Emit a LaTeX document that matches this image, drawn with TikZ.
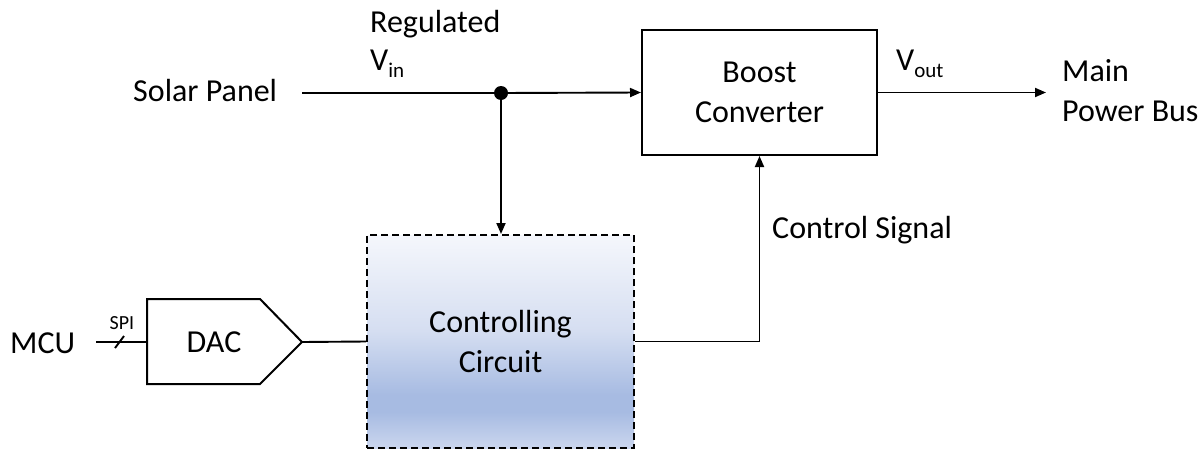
\documentclass[tikz,border=0pt]{standalone}
\usepackage{fontspec}
\setmainfont{Carlito}
\usetikzlibrary{arrows.meta}

% fill of the controller block: pale at the top, deepest blue low down
\definecolor{shA}{HTML}{CBD6EE}
\definecolor{shB}{HTML}{A7BBE2}
\definecolor{shC}{HTML}{D5DEF1}
\definecolor{shD}{HTML}{F5F7FC}
\pgfdeclareverticalshading{ctrlfill}{100bp}{%
  color(0bp)=(shA); color(25bp)=(shA); color(33.5bp)=(shB);
  color(37.5bp)=(shB); color(52.5bp)=(shC); color(75bp)=(shD);
  color(100bp)=(shD)}

\newcommand\lowsub[1]{\raisebox{-7pt}{\fontsize{21}{21}\selectfont #1}}

\tikzset{
  lbl/.style={inner sep=0pt, font=\fontsize{32}{40}\selectfont},
  wire/.style={line width=1.9pt},
  flow/.style={wire, -{Triangle[length=11pt,width=9pt]}},
  blk/.style={lbl, draw, line width=2pt, align=center},
  ctrlblk/.style={lbl, draw, line width=2pt, dash pattern=on 7pt off 4pt,
    shade, shading=ctrlfill, align=center,
    minimum width=267pt, minimum height=213pt},
}

\begin{document}
\begin{tikzpicture}[x=1pt, y=-1pt]
\useasboundingbox (0,0) rectangle (1204,450);

% labels
\node[lbl, anchor=base west] (solar) at (133,101) {Solar Panel};
\node[lbl, anchor=base west] (reg) at (370,32) {Regulated};
\node[lbl, anchor=base west] (vin) at (370,70) {V\lowsub{in}};
\node[lbl, anchor=base west] (vout) at (896,70) {V\lowsub{out}};
\node[lbl, anchor=west, align=left] (bus) at (1062,91) {Main\\Power Bus};
\node[lbl, anchor=base west] (csig) at (772,238) {Control Signal};
\node[lbl, anchor=base west] (mcu) at (10,353) {MCU};
\node[inner sep=0pt, font=\fontsize{20}{20}\selectfont, anchor=base] (spi) at (122,329) {SPI};

% blocks
\node[blk, minimum width=235pt, minimum height=125pt] (boost) at (759.5,92.5) {Boost\\Converter};
\node[ctrlblk] (ctrl) at (500.5,341.5) {Controlling\\Circuit};

% DAC symbol
\draw[wire, line width=2pt] (147,299) -- (260,299) -- (302,342) -- (260,384) -- (147,384) -- cycle;
\node[lbl] (dac) at (214,342) {DAC};

% connection points
\coordinate (sp) at (302,93);
\coordinate (jn) at (501,93);
\coordinate (busend) at (1046,92.5);
\coordinate (mcuout) at (96,342);
\coordinate (dacin) at (147,342);
\coordinate (dacout) at (302,342);

% connectors
\draw[wire] (sp) -- (jn);
\draw[flow] (jn) -- (boost.west);
\draw[flow] (jn) -- (jn |- ctrl.north);
\fill (jn) circle (7pt);
\draw[flow] (boost.east) -- (busend);
\draw[wire] (mcuout) -- (dacin);
\draw[wire] (115,348) -- (124,336);
\draw[wire] (dacout) -- (ctrl.west);
\draw[flow] (ctrl.east) -| (boost.south);
\end{tikzpicture}
\end{document}
